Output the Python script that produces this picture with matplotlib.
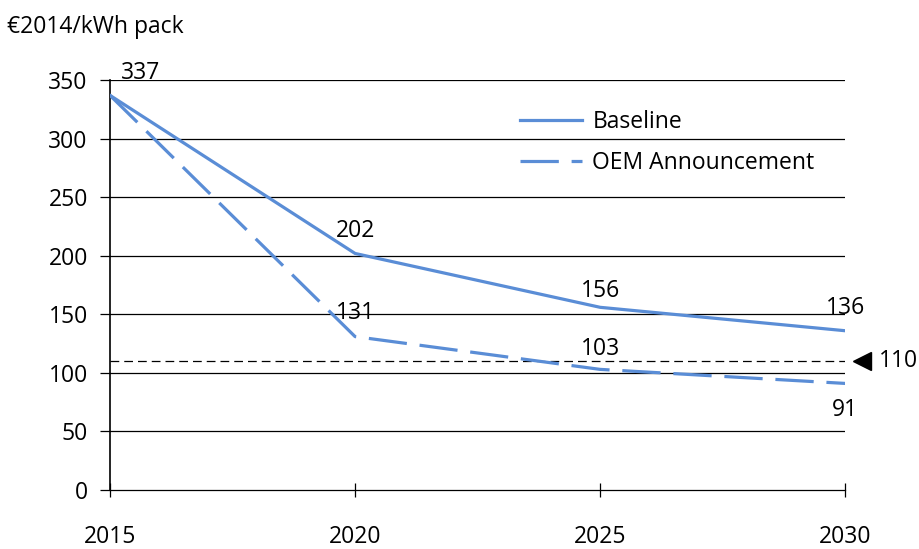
import numpy as np
import matplotlib
matplotlib.use("Agg")
import matplotlib.pyplot as plt

plt.rcParams['font.family'] = ['Open Sans', 'DejaVu Sans']

years = [2015, 2020, 2025, 2030]
baseline = [337, 202, 156, 136]
oem = [337, 131, 103, 91]
target = 110
yticks = [0, 50, 100, 150, 200, 250, 300, 350]

# label offsets in points (dx, dy)
base_off = [(22, 16), (0, 16.5), (0, 12), (0, 16.5)]
oem_off = [None, (0, 17), (0, 15), (0, -19)]

blue = '#5A8DD6'
fs = 16.5

fig = plt.figure(figsize=(9.19, 5.49), dpi=100)
ax = fig.add_axes([0.1197, 0.1075, 0.80, 0.7465])

for y in yticks[1:]:
    ax.axhline(y, color='black', lw=0.9, zorder=1)

ax.plot(years, baseline, color=blue, lw=2.3, label='Baseline', zorder=3)
ax.plot(years, oem, color=blue, lw=2.3, dashes=(12, 4), label='OEM Announcement', zorder=3)
ax.plot([years[0], years[-1]], [target, target], color='black', lw=0.9, dashes=(7, 4), zorder=2)

# data labels
for x, v, off in zip(years, baseline, base_off):
    ax.annotate(str(v), (x, v), xytext=off, textcoords='offset points',
                ha='center', va='center', fontsize=fs)
for x, v, off in zip(years, oem, oem_off):
    if off is None:
        continue
    ax.annotate(str(v), (x, v), xytext=off, textcoords='offset points',
                ha='center', va='center', fontsize=fs)

# target marker
ax.plot([2030.35], [target], marker='<', color='black', markersize=13, clip_on=False, zorder=4)
ax.annotate(str(target), (2030.35, target), xytext=(12, 0), textcoords='offset points',
            ha='left', va='center', fontsize=fs, annotation_clip=False)

ax.set_xlim(2015, 2030)
ax.set_ylim(0, 350)
ax.set_xticks(years)
ax.set_yticks(yticks)
ax.tick_params(axis='y', direction='out', length=7, width=0.9, labelsize=fs, pad=9)
ax.tick_params(axis='x', direction='inout', length=10, width=0.9, labelsize=fs, pad=20)

for s in ['top', 'right']:
    ax.spines[s].set_visible(False)
ax.spines['left'].set_linewidth(1.2)
ax.spines['bottom'].set_linewidth(0.9)

leg = ax.legend(loc='upper left', bbox_to_anchor=(0.53, 0.977), frameon=False, fontsize=fs,
                handlelength=2.7, labelspacing=0.75, handletextpad=0.45)

fig.text(0.008, 0.95, '€2014/kWh pack', fontsize=fs, ha='left', va='center')

fig.savefig('out.png', dpi=100)
